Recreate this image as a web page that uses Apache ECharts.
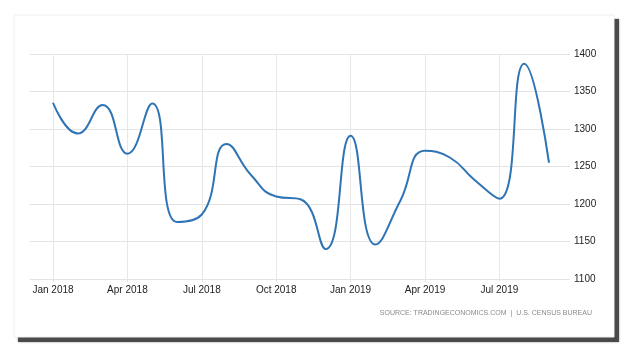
<!DOCTYPE html>
<html>
<head>
<meta charset="utf-8">
<style>
  html, body { margin: 0; padding: 0; background: #fff; }
  #main { width: 630px; height: 352px; }
</style>
<script src="https://cdn.jsdelivr.net/npm/echarts@6/dist/echarts.min.js"></script>
</head>
<body>
<div id="main"></div>
<script>
// months (x axis categories)
var months = ['Jan 2018', 'Feb 2018', 'Mar 2018', 'Apr 2018', 'May 2018', 'Jun 2018',
              'Jul 2018', 'Aug 2018', 'Sep 2018', 'Oct 2018', 'Nov 2018', 'Dec 2018',
              'Jan 2019', 'Feb 2019', 'Mar 2019', 'Apr 2019', 'May 2019', 'Jun 2019',
              'Jul 2019', 'Aug 2019', 'Sep 2019'];
// values
var values = [1335, 1294, 1332, 1267, 1334, 1176, 1186, 1280, 1238, 1210, 1206, 1140,
              1291, 1146, 1204, 1271, 1262, 1232, 1207, 1387, 1255];
// y axis ticks
var yTicks = [1100, 1150, 1200, 1250, 1300, 1350, 1400];
var sourceText = 'SOURCE: TRADINGECONOMICS.COM  |  U.S. CENSUS BUREAU';

var myChart = echarts.init(document.getElementById('main'));

var labelFont = 'Liberation Sans';

myChart.setOption({
    animation: false,
    backgroundColor: '#fff',
    graphic: [
        // shadow behind the card (right + bottom only)
        {
            type: 'rect',
            z: -20,
            shape: { x: 18, y: 19, width: 601, height: 323 },
            style: {
                fill: '#4a4a4a',
                shadowColor: 'rgba(0,0,0,0.4)',
                shadowBlur: 2
            }
        },
        // white card
        {
            type: 'rect',
            z: -10,
            shape: { x: 14, y: 15, width: 600, height: 322 },
            style: { fill: '#fff', stroke: '#f0f0f0', lineWidth: 1 }
        },
        {
            type: 'text',
            right: 38,
            top: 310,
            style: {
                text: sourceText,
                fill: '#8a8a8a',
                font: '7px ' + labelFont
            }
        }
    ],
    grid: [
        // wide grid for horizontal lines + right labels
        { left: 30, right: 60, top: 54, bottom: 73 },
        // data grid, first/last month at the edges
        { left: 53, right: 81, top: 54, bottom: 73 }
    ],
    xAxis: [
        { gridIndex: 0, type: 'value', show: false },
        {
            gridIndex: 1,
            type: 'category',
            data: months,
            boundaryGap: false,
            axisLine: { show: false },
            axisTick: { show: true, interval: 2, length: 3, lineStyle: { color: '#e6e6e6' } },
            axisLabel: {
                interval: 2,
                margin: 6,
                color: '#222',
                fontFamily: labelFont,
                fontSize: 10
            },
            splitLine: { show: true, interval: 2, lineStyle: { color: '#e8e8e8', width: 1 } }
        }
    ],
    yAxis: [
        {
            gridIndex: 0,
            type: 'value',
            position: 'right',
            min: yTicks[0],
            max: yTicks[yTicks.length - 1],
            interval: 50,
            axisLine: { show: false },
            axisTick: { show: false },
            axisLabel: {
                margin: 4,
                color: '#222',
                fontFamily: labelFont,
                fontSize: 10,
                formatter: function (v) { return String(v); }
            },
            splitLine: { lineStyle: { color: '#e3e3e3', width: 1 } }
        },
        {
            gridIndex: 1,
            type: 'value',
            min: yTicks[0],
            max: yTicks[yTicks.length - 1],
            show: false
        }
    ],
    series: [{
        name: 'Housing Starts',
        type: 'line',
        xAxisIndex: 1,
        yAxisIndex: 1,
        data: values,
        smooth: 0.5,
        showSymbol: false,
        lineStyle: { color: '#2f74b5', width: 2 }
    }]
});
</script>
</body>
</html>
